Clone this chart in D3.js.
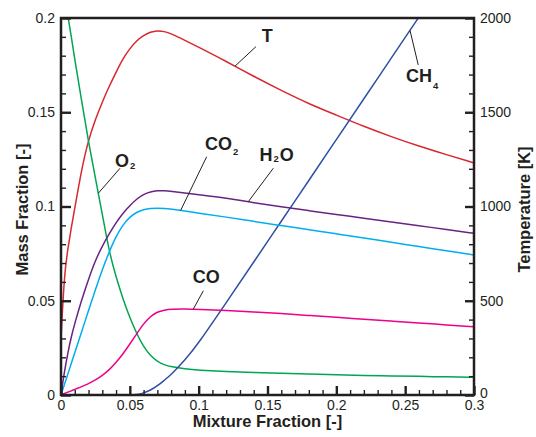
<!DOCTYPE html>
<html>
<head>
<meta charset="utf-8">
<script src="https://cdn.jsdelivr.net/npm/d3@7"></script>
<style>
  body { margin: 0; background: #fff; }
  svg { display: block; font-family: "Liberation Sans", Arial, Helvetica, sans-serif; }
</style>
</head>
<body>
<svg id="chart" width="536" height="437"></svg>
<script>
// Flamelet profiles versus mixture fraction
const mixtureFraction = [0, 0.0025, 0.005, 0.0075, 0.01, 0.015, 0.02, 0.025, 0.03, 0.035,
  0.04, 0.045, 0.05, 0.055, 0.06, 0.065, 0.07, 0.075, 0.08, 0.09,
  0.1, 0.12, 0.14, 0.16, 0.18, 0.2, 0.22, 0.24, 0.26, 0.28, 0.3];

const temperature = [300, 650, 775, 890, 990, 1200, 1355, 1462, 1555, 1638,
  1712, 1785, 1838, 1880, 1908, 1926, 1933, 1929, 1917, 1882,
  1845, 1770, 1690, 1615, 1545, 1485, 1425, 1370, 1320, 1275, 1231];

const massO2 = [0.225, 0.213, 0.201, 0.19, 0.178, 0.156, 0.134, 0.115, 0.096, 0.076,
  0.0625, 0.051, 0.041, 0.0325, 0.0255, 0.0208, 0.0178, 0.016, 0.015, 0.0138,
  0.0132, 0.0125, 0.0119, 0.0115, 0.0111, 0.0107, 0.0104, 0.0101, 0.0099, 0.0096, 0.0094];

const massCH4 = [0, 0, 0, 0, 0, 0, 0, 0, 0, 0,
  0, 0, 0, 0.0002, 0.001, 0.0025, 0.0048, 0.0078, 0.0108, 0.0185,
  0.0275, 0.049, 0.0705, 0.0922, 0.1138, 0.1355, 0.1572, 0.1788, 0.2005, 0.2222, 0.2438];

const massCO2 = [0, 0.0056, 0.0112, 0.0168, 0.0224, 0.0336, 0.0448, 0.056, 0.0665, 0.076,
  0.0842, 0.0903, 0.0945, 0.097, 0.0984, 0.099, 0.0992, 0.099, 0.0986, 0.0976,
  0.0965, 0.0944, 0.0921, 0.0899, 0.0877, 0.0855, 0.0833, 0.081, 0.0788, 0.0765, 0.0743];

const massH2O = [0, 0.0125, 0.0225, 0.031, 0.038, 0.0505, 0.0615, 0.0715, 0.079, 0.0855,
  0.0915, 0.0965, 0.1005, 0.104, 0.1065, 0.1078, 0.1084, 0.1084, 0.1081, 0.1072,
  0.1063, 0.1045, 0.102, 0.0998, 0.0978, 0.0958, 0.0938, 0.0918, 0.0898, 0.0878, 0.0858];

const massCO = [0, 0.0008, 0.0015, 0.0022, 0.003, 0.0044, 0.006, 0.0079, 0.0103, 0.0133,
  0.0172, 0.0218, 0.027, 0.0325, 0.0378, 0.0418, 0.0441, 0.0451, 0.0456, 0.0457,
  0.0455, 0.0448, 0.0441, 0.0432, 0.0422, 0.0412, 0.0402, 0.0392, 0.0382, 0.0372, 0.0362];

const fractionTicks = [0, 0.05, 0.1, 0.15, 0.2, 0.25, 0.3];
const fractionTickLabels = ["0", "0.05", "0.1", "0.15", "0.2", "0.25", "0.3"];
const massTicks = [0, 0.05, 0.1, 0.15, 0.2];
const massTickLabels = ["0", "0.05", "0.1", "0.15", "0.2"];
const temperatureTicks = [0, 500, 1000, 1500, 2000];
const temperatureTickLabels = ["0", "500", "1000", "1500", "2000"];

// ---- layout ----
const svg = d3.select("#chart");
const box = { left: 61, top: 18, right: 474, bottom: 395 };
const ink = "#231f20";

const x = d3.scaleLinear().domain([0, 0.3]).range([box.left, box.right]);
const yMass = d3.scaleLinear().domain([0, 0.2]).range([box.bottom, box.top]);
const yTemp = d3.scaleLinear().domain([0, 2000]).range([box.bottom, box.top]);

svg.append("defs").append("clipPath").attr("id", "plot-clip")
  .append("rect")
  .attr("x", box.left).attr("y", box.top)
  .attr("width", box.right - box.left).attr("height", box.bottom - box.top);

const series = [
  { key: "T",   values: temperature, scale: yTemp, color: "#d7282f" },
  { key: "O2",  values: massO2,  scale: yMass, color: "#00a651" },
  { key: "CH4", values: massCH4, scale: yMass, color: "#2e4fa3" },
  { key: "H2O", values: massH2O, scale: yMass, color: "#6a2383" },
  { key: "CO2", values: massCO2, scale: yMass, color: "#00aeef" },
  { key: "CO",  values: massCO,  scale: yMass, color: "#ec008c" }
];

const curves = svg.append("g").attr("clip-path", "url(#plot-clip)");
series.forEach(s => {
  const line = d3.line()
    .x((d, i) => x(mixtureFraction[i]))
    .y(d => s.scale(d))
    .curve(d3.curveBasis);
  curves.append("path")
    .datum(s.values)
    .attr("fill", "none")
    .attr("stroke", s.color)
    .attr("stroke-width", 1.5)
    .attr("d", line);
});

// value of a series at an arbitrary mixture fraction
function valueAt(values, z) {
  const i = Math.min(d3.bisectRight(mixtureFraction, z), mixtureFraction.length - 1);
  const z0 = mixtureFraction[i - 1], z1 = mixtureFraction[i];
  const t = (z - z0) / (z1 - z0);
  return values[i - 1] + t * (values[i] - values[i - 1]);
}

// ---- species / temperature labels with leader lines ----
const labels = [
  { text: "T",  sub: "", after: "", values: temperature, scale: yTemp,
    onCurve: 0.1264, tip: [0.1416, 1848], at: [0.1458, 1874], subDy: 0 },
  { text: "CH", sub: "4", after: "", values: massCH4, scale: yMass,
    onCurve: 0.2535, tip: [0.2595, 0.1751], at: [0.2506, 0.166], subDy: 6.5 },
  { text: "O",  sub: "2", after: "", values: massO2, scale: yMass,
    onCurve: 0.0271, tip: [0.0429, 0.1203], at: [0.0392, 0.1211], subDy: 1.8 },
  { text: "CO", sub: "2", after: "", values: massCO2, scale: yMass,
    onCurve: 0.0869, tip: [0.1058, 0.1264], at: [0.1046, 0.130], subDy: 5 },
  { text: "H",  sub: "2", after: "O", values: massH2O, scale: yMass,
    onCurve: 0.136, tip: [0.1542, 0.1203], at: [0.1441, 0.1243], subDy: 1.2 },
  { text: "CO", sub: "", after: "", values: massCO, scale: yMass,
    onCurve: 0.0961, tip: [0.1034, 0.0553], at: [0.0957, 0.0596], subDy: 0 }
];

const notes = svg.append("g");
labels.forEach(l => {
  notes.append("line")
    .attr("x1", x(l.onCurve)).attr("y1", l.scale(valueAt(l.values, l.onCurve)))
    .attr("x2", x(l.tip[0])).attr("y2", l.scale(l.tip[1]))
    .attr("stroke", ink).attr("stroke-width", 1);
  const t = notes.append("text")
    .attr("x", x(l.at[0])).attr("y", l.scale(l.at[1]))
    .attr("fill", ink).attr("font-weight", "bold").attr("font-size", 18);
  t.append("tspan").text(l.text);
  if (l.sub) {
    t.append("tspan").attr("dx", 1).attr("dy", l.subDy).attr("font-size", 9.5).text(l.sub);
    if (l.after) t.append("tspan").attr("dx", 1).attr("dy", -l.subDy).text(l.after);
  }
});

// ---- axes: inward ticks, majors heavier than minors ----
function steps(a, b, step) {
  const out = [];
  for (let v = a; v <= b + step / 2; v += step) out.push(+v.toFixed(6));
  return out;
}
const fractionMinor = steps(0, 0.3, 0.01).filter(v => !fractionTicks.some(t => Math.abs(t - v) < 1e-9));
const massMinor = steps(0, 0.2, 0.01).filter(v => !massTicks.some(t => Math.abs(t - v) < 1e-9));
const tempMinor = steps(0, 2000, 100).filter(v => !temperatureTicks.includes(v));

function styleAxis(g, width) {
  g.select(".domain").remove();
  g.selectAll(".tick line").attr("stroke", ink).attr("stroke-width", width);
  g.selectAll("text").attr("fill", ink).attr("font-size", 14);
}

// bottom
svg.append("g").attr("transform", `translate(0,${box.bottom})`)
  .call(d3.axisBottom(x).tickValues(fractionMinor).tickSizeInner(-5).tickSizeOuter(0).tickFormat(""))
  .call(g => styleAxis(g, 1.4));
svg.append("g").attr("transform", `translate(0,${box.bottom})`)
  .call(d3.axisBottom(x).tickValues(fractionTicks).tickSizeInner(-9).tickSizeOuter(0).tickPadding(0)
    .tickFormat((d, i) => fractionTickLabels[i]))
  .call(g => styleAxis(g, 2.4))
  .call(g => g.selectAll("text").attr("dy", null).attr("y", 15));

// left
svg.append("g").attr("transform", `translate(${box.left},0)`)
  .call(d3.axisLeft(yMass).tickValues(massMinor).tickSizeInner(-5).tickSizeOuter(0).tickFormat(""))
  .call(g => styleAxis(g, 1.4));
svg.append("g").attr("transform", `translate(${box.left},0)`)
  .call(d3.axisLeft(yMass).tickValues(massTicks).tickSizeInner(-10).tickSizeOuter(0).tickPadding(0)
    .tickFormat((d, i) => massTickLabels[i]))
  .call(g => styleAxis(g, 2.4))
  .call(g => g.selectAll("text").attr("x", -6));

// right
svg.append("g").attr("transform", `translate(${box.right},0)`)
  .call(d3.axisRight(yTemp).tickValues(tempMinor).tickSizeInner(-5).tickSizeOuter(0).tickFormat(""))
  .call(g => styleAxis(g, 1.4));
svg.append("g").attr("transform", `translate(${box.right},0)`)
  .call(d3.axisRight(yTemp).tickValues(temperatureTicks).tickSizeInner(-9).tickSizeOuter(0).tickPadding(0)
    .tickFormat((d, i) => temperatureTickLabels[i]))
  .call(g => styleAxis(g, 2.4))
  .call(g => g.selectAll("text").attr("x", 6))
  .call(g => g.selectAll(".tick").filter(d => d === 0).select("text").attr("dy", "0.2em"));

// frame
svg.append("rect")
  .attr("x", box.left).attr("y", box.top)
  .attr("width", box.right - box.left).attr("height", box.bottom - box.top)
  .attr("fill", "none").attr("stroke", ink).attr("stroke-width", 2.5);

// axis titles
svg.append("text")
  .attr("x", (box.left + box.right) / 2).attr("y", 427)
  .attr("text-anchor", "middle").attr("font-weight", "bold").attr("font-size", 16.5)
  .attr("fill", ink).text("Mixture Fraction [-]");

svg.append("text")
  .attr("transform", `translate(28,${(box.top + box.bottom) / 2 + 3}) rotate(-90)`)
  .attr("text-anchor", "middle").attr("font-weight", "bold").attr("font-size", 16.5)
  .attr("fill", ink).text("Mass Fraction [-]");

svg.append("text")
  .attr("transform", `translate(529.5,${(box.top + box.bottom) / 2 + 3}) rotate(-90)`)
  .attr("text-anchor", "middle").attr("font-weight", "bold").attr("font-size", 16.5)
  .attr("fill", ink).text("Temperature [K]");
</script>
</body>
</html>
